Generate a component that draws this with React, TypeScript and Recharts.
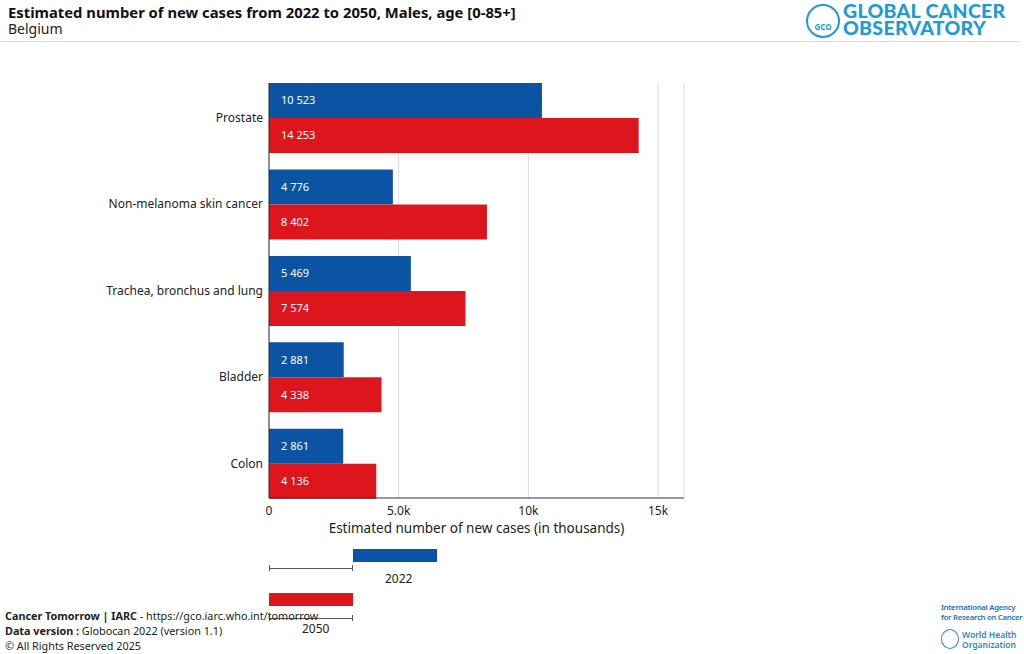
import { BarChart, Bar, XAxis, YAxis, CartesianGrid, LabelList } from "recharts";

// Cancer Tomorrow: estimated new cases 2022 vs 2050, males, Belgium (top 5 sites)
const cancers = [
  "Prostate",
  "Non-melanoma skin cancer",
  "Trachea, bronchus and lung",
  "Bladder",
  "Colon",
];
const cases2022 = [10523, 4776, 5469, 2881, 2861];
const cases2050 = [14253, 8402, 7574, 4338, 4136];
const xTicks = [0, 5000, 10000, 15000];
const xTickLabels = ["0", "5.0k", "10k", "15k"];

const BLUE = "#0B54A4";
const RED = "#DC161C";
const FONT = "'Noto Sans', 'Open Sans', sans-serif";

const data = cancers.map((name, i) => ({
  name,
  y2022: cases2022[i],
  y2050: cases2050[i],
}));

const fmt = (v: unknown) =>
  String(v).replace(/\B(?=(\d{3})+(?!\d))/g, " ");

const Whisker = ({ top }: { top: number }) => (
  <div style={{ position: "absolute", left: 269, top, width: 84, height: 6 }}>
    <div style={{ position: "absolute", left: 0, top: 2.5, width: 84, height: 1, background: "#555" }} />
    <div style={{ position: "absolute", left: 0, top: 0, width: 1, height: 6, background: "#555" }} />
    <div style={{ position: "absolute", left: 83, top: 0, width: 1, height: 6, background: "#555" }} />
  </div>
);

export default function App() {
  return (
    <div
      style={{
        position: "absolute",
        left: 0,
        top: 0,
        width: 1024,
        height: 654,
        background: "#fff",
        fontFamily: FONT,
        color: "#222",
        overflow: "hidden",
      }}
    >
      {/* header */}
      <div style={{ position: "absolute", left: 8, top: 3, fontSize: 14.8, lineHeight: "18px", fontWeight: 700, color: "#111", whiteSpace: "nowrap" }}>
        Estimated number of new cases from 2022 to 2050, Males, age [0-85+]
      </div>
      <div style={{ position: "absolute", left: 8, top: 21, fontSize: 14, lineHeight: "16px", color: "#222" }}>Belgium</div>
      <div style={{ position: "absolute", left: 0, top: 41, width: 1020, height: 1, background: "#ddd" }} />

      {/* GCO logo */}
      <div
        style={{
          position: "absolute",
          left: 806,
          top: 4,
          width: 30,
          height: 30,
          borderRadius: "50%",
          border: "2px solid #1E9AD6",
          color: "#1E9AD6",
          fontSize: 8,
          fontWeight: 700,
          textAlign: "center",
          lineHeight: "10px",
        }}
      >
        <div style={{ marginTop: 16 }}>GCO</div>
      </div>
      <div
        style={{
          position: "absolute",
          left: 843,
          top: 2,
          color: "#1E9AD6",
          fontFamily: "Lato, sans-serif",
          fontWeight: 900,
          fontSize: 19.5,
          lineHeight: "17px",
          letterSpacing: 0.3,
          whiteSpace: "nowrap",
        }}
      >
        <div>GLOBAL CANCER</div>
        <div>OBSERVATORY</div>
      </div>

      <BarChart
        width={1024}
        height={654}
        data={data}
        layout="vertical"
        margin={{ top: 83, right: 340, bottom: 120, left: 69 }}
        barCategoryGap="10%"
        barGap={0}
        style={{ position: "absolute", left: 0, top: 0 }}
      >
        <CartesianGrid horizontal={false} stroke="#dcdcdc" />
        <XAxis
          type="number"
          domain={[0, 16000]}
          ticks={xTicks}
          tickFormatter={(v: number) => xTickLabels[xTicks.indexOf(v)]}
          tickLine={false}
          axisLine={{ stroke: "#333" }}
          tick={{ fontSize: 12, fill: "#222", fontFamily: FONT }}
          height={36}
          label={{
            value: "Estimated number of new cases (in thousands)",
            position: "insideBottom",
            offset: 1,
            fontSize: 13.5,
            fill: "#222",
            fontFamily: FONT,
          }}
        />
        <YAxis
          type="category"
          dataKey="name"
          width={200}
          tickLine={false}
          tickMargin={0}
          axisLine={{ stroke: "#333" }}
          padding={{ top: -8.6, bottom: -8.6 }}
          tick={{ fontSize: 12, fill: "#222", fontFamily: FONT }}
        />
        <Bar dataKey="y2022" fill={BLUE} isAnimationActive={false}>
          <LabelList dataKey="y2022" position="insideLeft" offset={12} fill="#fff" fontSize={11} formatter={fmt} />
        </Bar>
        <Bar dataKey="y2050" fill={RED} isAnimationActive={false}>
          <LabelList dataKey="y2050" position="insideLeft" offset={12} fill="#fff" fontSize={11} formatter={fmt} />
        </Bar>
      </BarChart>

      {/* legend */}
      <div style={{ position: "absolute", left: 353, top: 549, width: 84, height: 13, background: BLUE }} />
      <Whisker top={565} />
      <div style={{ position: "absolute", left: 385, top: 570, fontSize: 12 }}>2022</div>
      <div style={{ position: "absolute", left: 269, top: 593, width: 84, height: 13, background: RED }} />
      <Whisker top={615} />

      {/* footer */}
      <div style={{ position: "absolute", left: 5, top: 608, fontSize: 10.8, lineHeight: "15px", color: "#222", whiteSpace: "nowrap" }}>
        <div>
          <b>Cancer Tomorrow | IARC</b> - https://gco.iarc.who.int/tomorrow
        </div>
        <div>
          <b>Data version :</b> Globocan 2022 (version 1.1)
        </div>
        <div>© All Rights Reserved 2025</div>
      </div>
      <div style={{ position: "absolute", left: 302, top: 620, fontSize: 12 }}>2050</div>

      {/* IARC / WHO */}
      <div
        style={{
          position: "absolute",
          left: 941,
          top: 602,
          fontSize: 7.8,
          lineHeight: "10px",
          color: "#1E74BC",
          fontWeight: 600,
          letterSpacing: -0.3,
          whiteSpace: "nowrap",
        }}
      >
        <div>International Agency</div>
        <div>for Research on Cancer</div>
      </div>
      <div
        style={{
          position: "absolute",
          left: 941,
          top: 629,
          width: 18,
          height: 20,
          borderRadius: "50%",
          border: "1.5px solid #2C87C8",
          boxSizing: "border-box",
        }}
      />
      <div
        style={{
          position: "absolute",
          left: 962,
          top: 630,
          fontSize: 8.5,
          lineHeight: "10px",
          color: "#2C87C8",
          fontWeight: 600,
          whiteSpace: "nowrap",
        }}
      >
        <div>World Health</div>
        <div>Organization</div>
      </div>
    </div>
  );
}
